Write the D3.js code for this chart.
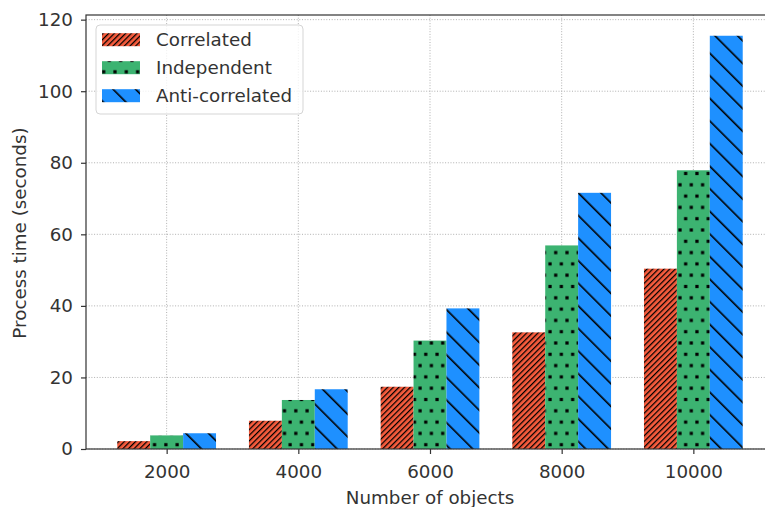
<!DOCTYPE html>
<html>
<head>
<meta charset="utf-8">
<script src="https://cdn.jsdelivr.net/npm/d3@7"></script>
<style>
  html, body { margin: 0; padding: 0; background: #fff; }
  svg { display: block; font-family: "DejaVu Sans", sans-serif; }
</style>
</head>
<body>
<svg id="chart" width="765" height="507"></svg>
<script>
const categories = ["2000", "4000", "6000", "8000", "10000"];
const seriesNames = ["Correlated", "Independent", "Anti-correlated"];
const correlated = [2.2, 7.9, 17.4, 32.6, 50.4];
const independent = [3.8, 13.7, 30.3, 56.9, 77.9];
const antiCorrelated = [4.4, 16.7, 39.3, 71.6, 115.5];
const yTicks = [0, 20, 40, 60, 80, 100, 120];
const colors = ["#f85c3d", "#3cb371", "#1e90ff"];
const patternIds = ["hatchSlash", "hatchDots", "hatchBack"];

const series = [correlated, independent, antiCorrelated];

const svg = d3.select("#chart");
const mLeft = 86, mRight = 774, mTop = 15, mBottom = 449;
const barW = 0.25;
const fontSize = "18.3px";

const x = d3.scaleLinear().domain([-0.6125, 4.6125]).range([mLeft, mRight]);
const y = d3.scaleLinear().domain([0, 121.3]).range([mBottom, mTop]);

// patterns
const defs = svg.append("defs");
function stripePattern(id, color, spacing, angle, lw) {
  const p = defs.append("pattern").attr("id", id)
    .attr("patternUnits", "userSpaceOnUse")
    .attr("width", spacing).attr("height", spacing)
    .attr("patternTransform", `rotate(${angle})`);
  p.append("rect").attr("width", spacing).attr("height", spacing).attr("fill", color);
  p.append("rect").attr("x", 0).attr("width", lw).attr("height", spacing).attr("fill", "#000");
}
stripePattern(patternIds[0], colors[0], 5.65 / Math.SQRT2, 45, 1.25);
stripePattern(patternIds[2], colors[2], 22.6 / Math.SQRT2, -45, 1.6);
{
  const w = 11.3, h = 22.6;
  const p = defs.append("pattern").attr("id", patternIds[1])
    .attr("patternUnits", "userSpaceOnUse")
    .attr("x", 2).attr("y", 4)
    .attr("width", w).attr("height", h);
  p.append("rect").attr("width", w).attr("height", h).attr("fill", colors[1]);
  [[0,0],[w,0],[0,h],[w,h],[w/2,h/2]].forEach(([cx, cy]) => {
    p.append("rect").attr("x", cx - 1.6).attr("y", cy - 1.6)
      .attr("width", 3.2).attr("height", 3.2).attr("fill", "#000");
  });
}

// grid
const grid = svg.append("g");
yTicks.forEach(t => {
  grid.append("line").attr("x1", mLeft).attr("x2", mRight)
    .attr("y1", y(t)).attr("y2", y(t))
    .attr("stroke", "#b0b0b0").attr("stroke-width", 1).attr("stroke-dasharray", "1,1.7");
});
categories.forEach((c, i) => {
  grid.append("line").attr("x1", x(i)).attr("x2", x(i))
    .attr("y1", mTop).attr("y2", mBottom)
    .attr("stroke", "#b0b0b0").attr("stroke-width", 1).attr("stroke-dasharray", "1,1.7");
});

// bars
series.forEach((vals, s) => {
  svg.append("g").selectAll("rect").data(vals).join("rect")
    .attr("x", (d, i) => x(i + (s - 1) * barW - barW / 2))
    .attr("width", (d, i) => x(i + (s - 1) * barW + barW / 2) - x(i + (s - 1) * barW - barW / 2))
    .attr("y", d => y(d))
    .attr("height", d => y(0) - y(d))
    .attr("fill", `url(#${patternIds[s]})`);
});

// axes
const xAxis = d3.axisBottom(x).tickValues(categories.map((c, i) => i))
  .tickFormat(i => categories[i]).tickSize(5).tickPadding(11);
const yAxis = d3.axisLeft(y).tickValues(yTicks).tickSize(5).tickPadding(8);

const gx = svg.append("g").attr("transform", `translate(0,${mBottom})`).call(xAxis);
const gy = svg.append("g").attr("transform", `translate(${mLeft},0)`).call(yAxis);
[gx, gy].forEach(g => {
  g.select(".domain").remove();
  g.selectAll(".tick line").attr("stroke", "#333").attr("stroke-width", 1.2);
  g.selectAll(".tick text").attr("fill", "#333").style("font-size", fontSize)
    .style("font-family", "'DejaVu Sans', sans-serif");
});

// spines
svg.append("rect").attr("x", mLeft).attr("y", mTop)
  .attr("width", mRight - mLeft).attr("height", mBottom - mTop)
  .attr("fill", "none").attr("stroke", "#333").attr("stroke-width", 1.2);

// axis labels
svg.append("text").attr("x", (mLeft + mRight) / 2).attr("y", 504)
  .attr("text-anchor", "middle").attr("fill", "#333").style("font-size", fontSize)
  .text("Number of objects");
svg.append("text").attr("transform", `translate(26,233) rotate(-90)`)
  .attr("text-anchor", "middle").attr("fill", "#333").style("font-size", fontSize)
  .text("Process time (seconds)");

// legend
const lg = svg.append("g");
lg.append("rect").attr("x", 96).attr("y", 25).attr("width", 207).attr("height", 89)
  .attr("rx", 4).attr("fill", "#fff").attr("fill-opacity", 0.8)
  .attr("stroke", "#d5d5d5").attr("stroke-width", 1);
seriesNames.forEach((name, s) => {
  const cy = 39.7 + s * 28;
  lg.append("rect").attr("x", 102).attr("y", cy - 6.5).attr("width", 38).attr("height", 13)
    .attr("fill", `url(#${patternIds[s]})`);
  lg.append("text").attr("x", 156).attr("y", cy).attr("dy", "0.35em")
    .attr("fill", "#333").style("font-size", fontSize).text(name);
});
</script>
</body>
</html>
